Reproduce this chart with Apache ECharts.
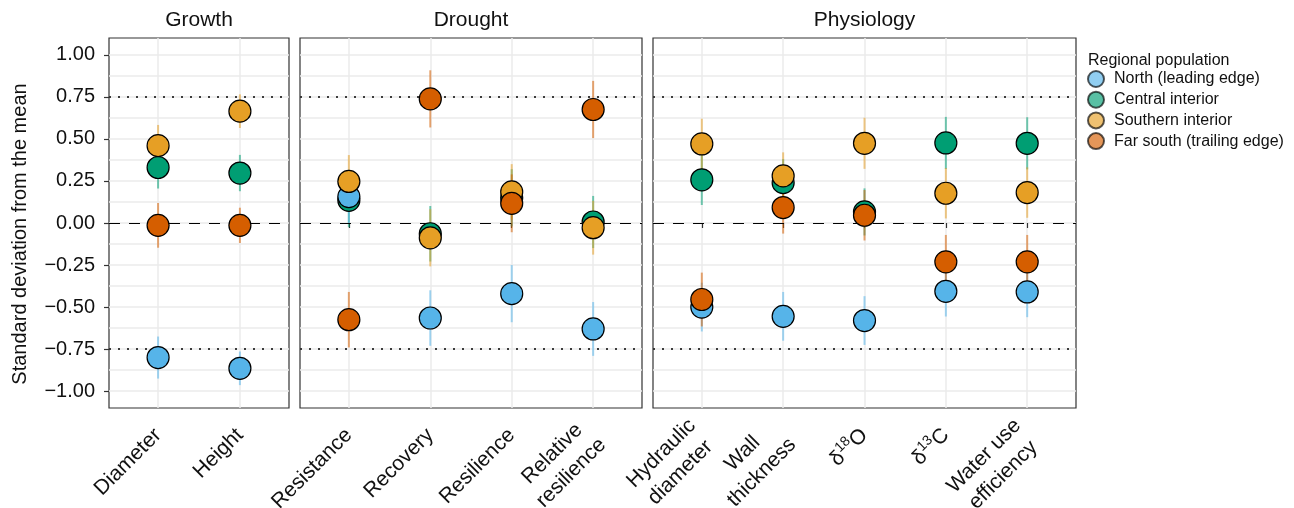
<!DOCTYPE html>
<html><head><meta charset="utf-8">
<script src="https://cdn.jsdelivr.net/npm/echarts@6/dist/echarts.min.js"></script>
<style>html,body{margin:0;padding:0;background:#fff}#c{width:1294px;height:508px}</style>
</head><body><div id="c"></div>
<script>
// ---- data ----
const panelNames = ['Growth', 'Drought', 'Physiology'];
const growthCats = ['Diameter', 'Height'];
const droughtCats = ['Resistance', 'Recovery', 'Resilience', 'Relative\nresilience'];
const physCats = ['Hydraulic\ndiameter', 'Wall\nthickness', '{d|δ}{s|18}{d|O}', '{d|δ}{s|13}{d|C}', 'Water use\nefficiency'];
const groupNames = ['North (leading edge)', 'Central interior', 'Southern interior', 'Far south (trailing edge)'];
const groupColors = ['#56B4E9', '#009E73', '#E69F25', '#D55E00'];
// trait order: Diameter, Height | Resistance, Recovery, Resilience, Relative resilience | Hydraulic, Wall, d18O, d13C, WUE
const northMean    = [-0.800, -0.864, 0.157, -0.565, -0.420, -0.630, -0.500, -0.555, -0.580, -0.406, -0.410];
const northErr     = [0.125, 0.100, 0.160, 0.165, 0.170, 0.160, 0.145, 0.145, 0.145, 0.150, 0.150];
const centralMean  = [0.330, 0.297, 0.135, -0.064, 0.150, 0.006, 0.257, 0.240, 0.066, 0.476, 0.474];
const centralErr   = [0.125, 0.108, 0.160, 0.165, 0.170, 0.155, 0.150, 0.140, 0.140, 0.155, 0.155];
const southernMean = [0.460, 0.665, 0.247, -0.088, 0.185, -0.028, 0.470, 0.280, 0.474, 0.177, 0.181];
const southernErr  = [0.123, 0.100, 0.157, 0.170, 0.165, 0.160, 0.150, 0.140, 0.152, 0.150, 0.150];
const farSouthMean = [-0.014, -0.014, -0.575, 0.738, 0.117, 0.675, -0.455, 0.092, 0.046, -0.231, -0.231];
const farSouthErr  = [0.133, 0.105, 0.165, 0.170, 0.172, 0.170, 0.160, 0.155, 0.150, 0.160, 0.160];
const yTicks = [-1, -0.75, -0.5, -0.25, 0, 0.25, 0.5, 0.75, 1];
const yGridValues = [-1, -0.875, -0.75, -0.625, -0.5, -0.375, -0.25, -0.125, 0, 0.125, 0.25, 0.375, 0.5, 0.625, 0.75, 0.875, 1];
const refDashed = [0];
const refDotted = [-0.75, 0.75];

// ---- build ----
const panelCats = [growthCats, droughtCats, physCats];
const means = [northMean, centralMean, southernMean, farSouthMean];
const errs = [northErr, centralErr, southernErr, farSouthErr];
const grids = [
  {left: 109, top: 38, width: 180, height: 370},
  {left: 300, top: 38, width: 342, height: 370},
  {left: 653, top: 38, width: 423, height: 370}
];
const FONT = '"Liberation Sans", Arial, Helvetica, sans-serif';
const gridColor = '#EBEBEB';
const LH = 27;

function fmtLabel(s) {
  if (s.indexOf('{') >= 0) return s;
  return s.split('\n').map(t => '{c|' + t + '}').join('\n');
}

const xAxes = [], yAxes = [], series = [];
panelCats.forEach((cats, p) => {
  const idx = cats.map((c, i) => i + 1);
  xAxes.push({
    type: 'value', gridIndex: p, min: 0.4, max: cats.length + 0.6,
    axisLine: {show: false},
    axisTick: {show: true, customValues: idx, length: 5, lineStyle: {color: '#333', width: 1.2}},
    splitLine: {show: true, lineStyle: {color: gridColor, width: 1.5}},
    axisLabel: {
      customValues: idx, rotate: 45, align: 'right', verticalAlign: 'middle', margin: 24,
      fontSize: 21, fontFamily: FONT, color: '#111', lineHeight: LH,
      formatter: v => fmtLabel(cats[Math.round(v) - 1]),
      rich: {
        c: {fontSize: 21, fontFamily: FONT, color: '#111', lineHeight: LH, align: 'center'},
        d: {fontSize: 21, fontFamily: FONT, color: '#111', lineHeight: LH},
        s: {fontSize: 14, fontFamily: FONT, color: '#111', lineHeight: 16, verticalAlign: 'top'}
      }
    }
  });
  yAxes.push({
    type: 'value', gridIndex: p, min: -1.1, max: 1.1,
    axisLine: {show: false}, axisTick: {show: false, customValues: yGridValues},
    axisLabel: {show: false},
    splitLine: {show: true, lineStyle: {color: gridColor, width: 1.5}}
  });
});
// tick/label y axis on first panel
yAxes.push({
  type: 'value', gridIndex: 0, min: -1.1, max: 1.1, position: 'left',
  axisLine: {show: false},
  axisTick: {show: true, customValues: yTicks, length: 5, lineStyle: {color: '#333', width: 1.2}},
  axisLabel: {customValues: yTicks, margin: 14, fontSize: 20, fontFamily: FONT, color: '#111',
    formatter: v => (v < 0 ? '\u2212' : '') + Math.abs(v).toFixed(2)},
  splitLine: {show: false}
});

panelCats.forEach((cats, p) => {
  const start = p === 0 ? 0 : (p === 1 ? 2 : 6);
  // reference lines
  series.push({
    type: 'line', xAxisIndex: p, yAxisIndex: p, data: [], silent: true, z: 3,
    markLine: {
      silent: true, symbol: ['none', 'none'], label: {show: false}, animation: false,
      data: refDashed.map(v => ({yAxis: v, lineStyle: {color: '#000', width: 1.2, type: [11, 9]}}))
        .concat(refDotted.map(v => ({yAxis: v, lineStyle: {color: '#000', width: 1.5, type: [2, 7]}})))
    }
  });
  // error bars
  [1, 0, 2, 3].forEach(g => {
    const data = cats.map((c, i) => [i + 1, means[g][start + i] - errs[g][start + i], means[g][start + i] + errs[g][start + i]]);
    const col = groupColors[g];
    series.push({
      type: 'custom', xAxisIndex: p, yAxisIndex: p, z: 4, silent: true, data,
      renderItem: (params, api) => {
        const a = api.coord([api.value(0), api.value(1)]);
        const b = api.coord([api.value(0), api.value(2)]);
        return {type: 'line', shape: {x1: a[0], y1: a[1], x2: b[0], y2: b[1]},
          style: {stroke: col, lineWidth: 2, opacity: 0.55}};
      }
    });
  });
  // points (drawing order: central, north, southern, far south)
  [1, 0, 2, 3].forEach((g, k) => {
    series.push({
      type: 'scatter', name: groupNames[g], xAxisIndex: p, yAxisIndex: p,
      z: 10 + k, symbol: 'circle', symbolSize: 22,
      itemStyle: {color: groupColors[g], borderColor: '#000', borderWidth: 1.2, opacity: 1},
      data: cats.map((c, i) => [i + 1, means[g][start + i]])
    });
  });
});

const chart = echarts.init(document.getElementById('c'), null, {renderer: 'canvas'});
chart.setOption({
  animation: false,
  backgroundColor: '#fff',
  grid: grids.map(g => Object.assign({show: true, borderColor: '#333', borderWidth: 1.2, backgroundColor: 'transparent', containLabel: false, outerBoundsMode: 'none'}, g)),
  xAxis: xAxes,
  yAxis: yAxes,
  legend: {
    data: groupNames, orient: 'vertical', left: 1082, top: 65, icon: 'circle',
    itemWidth: 26, itemHeight: 16, itemGap: 2.7,
    itemStyle: {opacity: 0.65},
    textStyle: {fontSize: 16, fontFamily: FONT, color: '#111', lineHeight: 16},
    selectedMode: false
  },
  graphic: [
    {type: 'text', x: 1088, y: 61, style: {text: 'Regional population', fontSize: 16, fontFamily: FONT, fill: '#111', align: 'left', verticalAlign: 'middle'}},
    {type: 'text', x: 20, y: 234, rotation: Math.PI / 2, style: {text: 'Standard deviation from the mean', fontSize: 20, fontFamily: FONT, fill: '#111', align: 'center', verticalAlign: 'middle'}}
  ].concat(panelNames.map((n, p) => ({
    type: 'text', x: grids[p].left + grids[p].width / 2, y: 20,
    style: {text: n, fontSize: 21, fontFamily: FONT, fill: '#111', align: 'center', verticalAlign: 'middle'}
  }))),
  series
});
</script></body></html>
